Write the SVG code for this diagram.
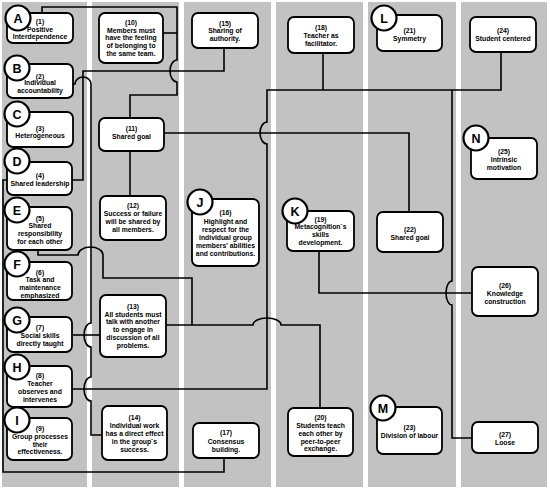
<svg xmlns="http://www.w3.org/2000/svg" width="550" height="489" viewBox="0 0 550 489">
<style>
.col{fill:#c2c2c2}
.box{fill:#fff;stroke:#000;stroke-width:1.8}
.circ{fill:#fff;stroke:#000;stroke-width:2.2}
.let{font-family:"Liberation Sans",Arial,sans-serif;font-weight:bold;font-size:12.5px;text-anchor:middle;fill:#000}
.t{font-family:"Liberation Sans",Arial,sans-serif;font-weight:bold;font-size:6.8px;text-anchor:middle;fill:#000}
.conn{fill:none;stroke:#000;stroke-width:1.6}
</style>
<rect width="550" height="489" fill="#fff"/>
<g id="columns">
<rect class="col" x="2" y="2" width="85" height="485"/>
<rect class="col" x="92" y="2" width="87" height="485"/>
<rect class="col" x="184" y="2" width="87" height="485"/>
<rect class="col" x="276" y="2" width="87" height="485"/>
<rect class="col" x="368" y="2" width="88" height="485"/>
<rect class="col" x="461" y="2" width="86" height="485"/>
</g>
<g id="connectors">
<path class="conn" d="M42,13 V7 H177 V60 A7,11 0 0 0 177,82 V95 H130 V118"/>
<path class="conn" d="M163,33 H177"/>
<path class="conn" d="M130,151 V196"/>
<path class="conn" d="M224,48 V71 H83 V180 H72"/>
<path class="conn" d="M73,84 H75 A8,7 0 0 1 91,84 V323 A7,12 0 0 0 91,347 V377 A7,12 0 0 0 91,401 V435 H102"/>
<path class="conn" d="M73,335 H100"/>
<path class="conn" d="M72,389 H267 V144 A7,11 0 0 1 267,122 V90 H501 V52"/>
<path class="conn" d="M323,53 V90"/>
<path class="conn" d="M452,90 V281 A6,12 0 0 0 452,305 V438 H472"/>
<path class="conn" d="M164,133 H409 V212"/>
<path class="conn" d="M319,251 V293 H472"/>
<path class="conn" d="M38,250 V255 H78 A12.5,8 0 0 1 103,255 V278 H192 V325"/>
<path class="conn" d="M166,325 H253 A14,7 0 0 1 281,325 H320 V408"/>
<path class="conn" d="M7,180 H3 V472 H224 V458"/>
</g>
<g id="nA"><rect class="box" x="7" y="13" width="66" height="30" rx="6"/><circle class="circ" cx="18" cy="18" r="12.5"/><text class="let" x="18" y="22.5">A</text>
<text class="t" x="40" y="24">(1)</text><text class="t" x="40" y="31.7">Positive</text><text class="t" x="40" y="39.3">Interdependence</text></g>
<g id="nB"><rect class="box" x="7" y="64" width="66" height="34" rx="6"/><circle class="circ" cx="17" cy="68" r="12.5"/><text class="let" x="17" y="72.5">B</text>
<text class="t" x="40" y="78.5">(2)</text><text class="t" x="40" y="85">Individual</text><text class="t" x="40" y="92.5">accountability</text></g>
<g id="nC"><rect class="box" x="7" y="112" width="66" height="35" rx="6"/><circle class="circ" cx="17" cy="114" r="12.5"/><text class="let" x="17" y="118.5">C</text>
<text class="t" x="40" y="130.5">(3)</text><text class="t" x="40" y="138">Heterogeneous</text></g>
<g id="nD"><rect class="box" x="7" y="162" width="65" height="33" rx="6"/><circle class="circ" cx="17" cy="161" r="12.5"/><text class="let" x="17" y="165.5">D</text>
<text class="t" x="40" y="177.5">(4)</text><text class="t" x="40" y="185.5">Shared leadership</text></g>
<g id="nE"><rect class="box" x="7" y="207" width="65" height="43" rx="6"/><circle class="circ" cx="17" cy="210" r="12.5"/><text class="let" x="17" y="214.5">E</text>
<text class="t" x="40" y="220.5">(5)</text><text class="t" x="40" y="228">Shared</text><text class="t" x="40" y="235.5">responsibility</text><text class="t" x="40" y="243.5">for each other</text></g>
<g id="nF"><rect class="box" x="7" y="262" width="65" height="38" rx="6"/><circle class="circ" cx="17" cy="264" r="12.5"/><text class="let" x="17" y="268.5">F</text>
<text class="t" x="40" y="275">(6)</text><text class="t" x="40" y="282">Task and</text><text class="t" x="40" y="290">maintenance</text><text class="t" x="40" y="297.5">emphasized</text></g>
<g id="nG"><rect class="box" x="7" y="317" width="65" height="35" rx="6"/><circle class="circ" cx="17" cy="320" r="12.5"/><text class="let" x="17" y="324.5">G</text>
<text class="t" x="40" y="329.5">(7)</text><text class="t" x="40" y="337.5">Social skills</text><text class="t" x="40" y="345.5">directly taught</text></g>
<g id="nH"><rect class="box" x="7" y="366" width="65" height="41" rx="6"/><circle class="circ" cx="17" cy="367" r="12.5"/><text class="let" x="17" y="371.5">H</text>
<text class="t" x="40" y="377.5">(8)</text><text class="t" x="40" y="385.5">Teacher</text><text class="t" x="40" y="393.5">observes and</text><text class="t" x="40" y="401.5">intervenes</text></g>
<g id="nI"><rect class="box" x="7" y="418" width="65" height="42" rx="6"/><circle class="circ" cx="17" cy="420" r="12.5"/><text class="let" x="17" y="424.5">I</text>
<text class="t" x="40" y="430.5">(9)</text><text class="t" x="40" y="438.5">Group processes</text><text class="t" x="40" y="446.5">their</text><text class="t" x="40" y="454">effectiveness.</text></g>
<g id="n10"><rect class="box" x="99" y="13" width="64" height="50" rx="6"/>
<text class="t" x="131" y="25.2">(10)</text><text class="t" x="131" y="32.7">Members must</text><text class="t" x="131" y="40.3">have the feeling</text><text class="t" x="131" y="48.2">of belonging to</text><text class="t" x="131" y="55.8">the same team.</text></g>
<g id="n11"><rect class="box" x="99" y="118" width="65" height="33" rx="6"/>
<text class="t" x="131.5" y="130.5">(11)</text><text class="t" x="131.5" y="139">Shared goal</text></g>
<g id="n12"><rect class="box" x="100" y="196" width="66" height="44" rx="6"/>
<text class="t" x="133" y="207.5">(12)</text><text class="t" x="133" y="215.5">Success or failure</text><text class="t" x="133" y="224">will be shared by</text><text class="t" x="133" y="232">all members.</text></g>
<g id="n13"><rect class="box" x="100" y="295" width="66" height="62" rx="6"/>
<text class="t" x="133" y="309">(13)</text><text class="t" x="133" y="316.5">All students must</text><text class="t" x="133" y="324">talk with another</text><text class="t" x="133" y="332">to engage in</text><text class="t" x="133" y="340">discussion of all</text><text class="t" x="133" y="348">problems.</text></g>
<g id="n14"><rect class="box" x="102" y="406" width="65" height="54" rx="6"/>
<text class="t" x="134.5" y="420">(14)</text><text class="t" x="134.5" y="428">Individual work</text><text class="t" x="134.5" y="436">has a direct effect</text><text class="t" x="134.5" y="444">in the group`s</text><text class="t" x="134.5" y="452">success.</text></g>
<g id="n15"><rect class="box" x="192" y="13" width="66" height="35" rx="6"/>
<text class="t" x="225" y="25.5">(15)</text><text class="t" x="225" y="33">Sharing of</text><text class="t" x="225" y="40.5">authority.</text></g>
<g id="nJ"><rect class="box" x="192" y="199" width="67" height="67" rx="6"/><circle class="circ" cx="200" cy="202" r="12.5"/><text class="let" x="200" y="206.5">J</text>
<text class="t" x="225.5" y="215">(16)</text><text class="t" x="225.5" y="223.5">Highlight and</text><text class="t" x="225.5" y="231.5">respect for the</text><text class="t" x="225.5" y="239.5">individual group</text><text class="t" x="225.5" y="247.5">members' abilities</text><text class="t" x="225.5" y="255.5">and contributions.</text></g>
<g id="n17"><rect class="box" x="193" y="423" width="66" height="35" rx="6"/>
<text class="t" x="226" y="434.5">(17)</text><text class="t" x="226" y="443.5">Consensus</text><text class="t" x="226" y="451.5">building.</text></g>
<g id="n18"><rect class="box" x="288" y="17" width="66" height="36" rx="6"/>
<text class="t" x="321" y="29.5">(18)</text><text class="t" x="321" y="37.5">Teacher as</text><text class="t" x="321" y="45.5">facilitator.</text></g>
<g id="nK"><rect class="box" x="287" y="211" width="67" height="40" rx="6"/><circle class="circ" cx="295" cy="211" r="12.5"/><text class="let" x="295" y="215.5">K</text>
<text class="t" x="320.5" y="221.8">(19)</text><text class="t" x="320.5" y="229.2">Metacognition`s</text><text class="t" x="320.5" y="236.5">skills</text><text class="t" x="320.5" y="244.8">development.</text></g>
<g id="n20"><rect class="box" x="288" y="408" width="65" height="48" rx="6"/>
<text class="t" x="320.5" y="419.5">(20)</text><text class="t" x="320.5" y="427.5">Students teach</text><text class="t" x="320.5" y="435.5">each other by</text><text class="t" x="320.5" y="443.5">peer-to-peer</text><text class="t" x="320.5" y="450.5">exchange.</text></g>
<g id="nL"><rect class="box" x="377" y="15" width="65" height="36" rx="6"/><circle class="circ" cx="384" cy="18" r="12.5"/><text class="let" x="384" y="22.5">L</text>
<text class="t" x="409.5" y="32.5">(21)</text><text class="t" x="409.5" y="40.5">Symmetry</text></g>
<g id="n22"><rect class="box" x="377" y="212" width="66" height="40" rx="6"/>
<text class="t" x="410" y="231.5">(22)</text><text class="t" x="410" y="239.5">Shared goal</text></g>
<g id="nM"><rect class="box" x="377" y="407" width="65" height="47" rx="6"/><circle class="circ" cx="383" cy="408" r="12.5"/><text class="let" x="383" y="412.5">M</text>
<text class="t" x="409.5" y="429.5">(23)</text><text class="t" x="409.5" y="437.5">Division of labour</text></g>
<g id="n24"><rect class="box" x="470" y="17" width="66" height="35" rx="6"/>
<text class="t" x="503" y="33">(24)</text><text class="t" x="503" y="40.5">Student centered</text></g>
<g id="nN"><rect class="box" x="471" y="138" width="66" height="41" rx="6"/><circle class="circ" cx="476" cy="138" r="12.5"/><text class="let" x="476" y="142.5">N</text>
<text class="t" x="504" y="154">(25)</text><text class="t" x="504" y="162">Intrinsic</text><text class="t" x="504" y="169.8">motivation</text></g>
<g id="n26"><rect class="box" x="472" y="267" width="66" height="49" rx="6"/>
<text class="t" x="505" y="287.5">(26)</text><text class="t" x="505" y="295.5">Knowledge</text><text class="t" x="505" y="303.5">construction</text></g>
<g id="n27"><rect class="box" x="472" y="422" width="66" height="31" rx="6"/>
<text class="t" x="505" y="436.5">(27)</text><text class="t" x="505" y="444.5">Loose</text></g>
</svg>
